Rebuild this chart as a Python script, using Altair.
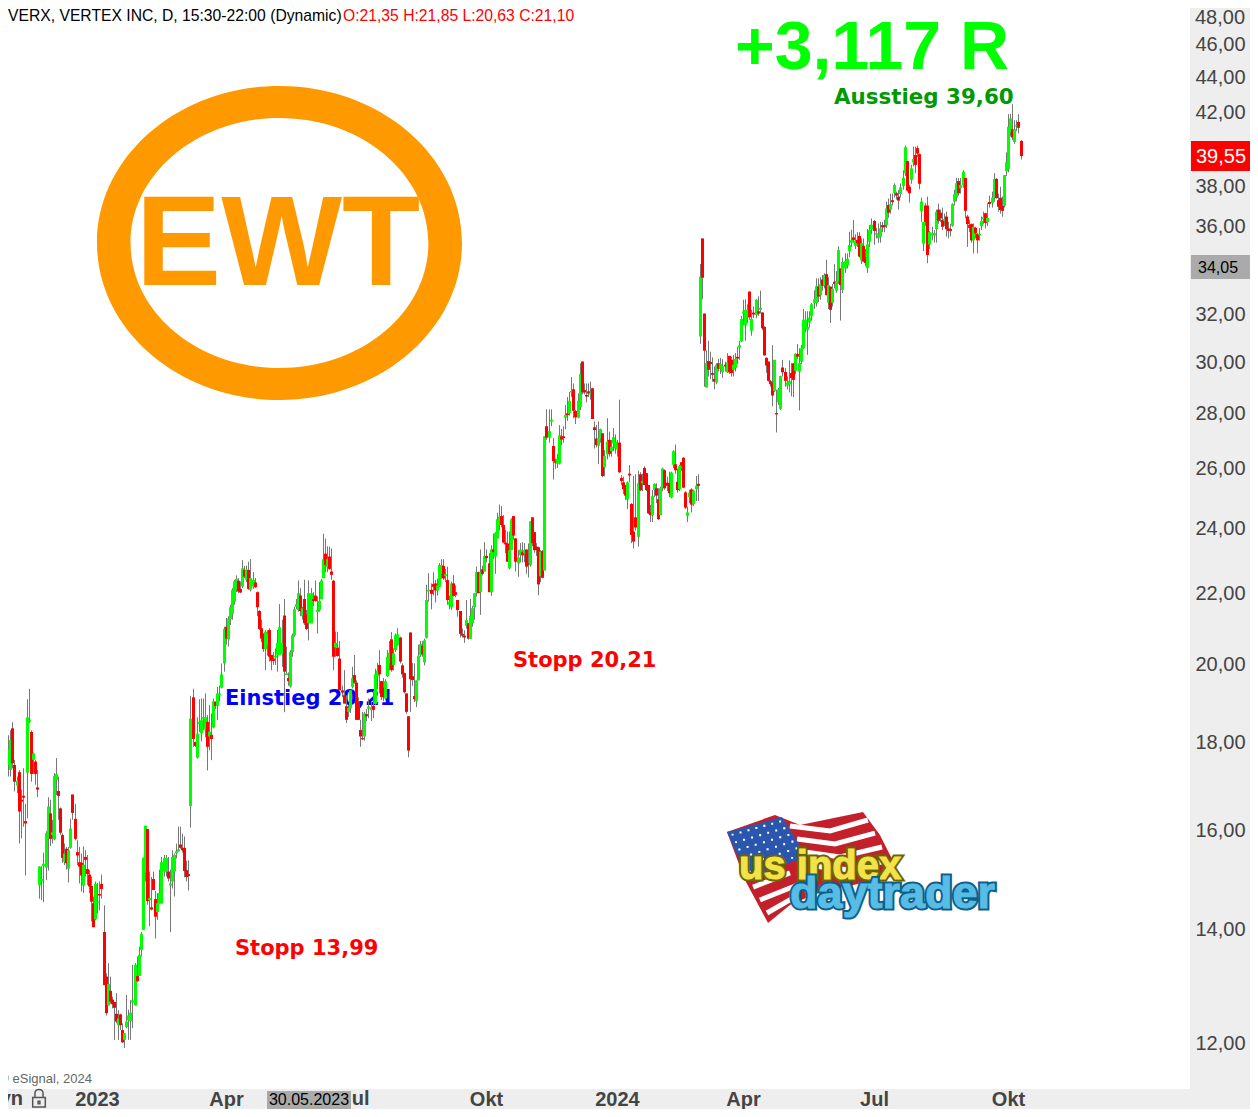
import altair as alt
import pandas as pd

# (open, high, low, close) per session
candles_a = [(16.49,17.01,16.49,17.01),(17.11,17.7,16.75,17.2),(17.11,17.6,16.57,17.05),(17.09,17.8,16.9,17.56),(17.44,18.15,17.17,17.81),(17.32,18.27,17.17,18.03),(18.32,18.47,17.36,17.48),(17.44,17.56,16.83,17.05),(16.96,17.17,16.79,17.07),(17.27,17.32,15.69,16.38),(16.64,16.87,15.8,16.6),(16.73,17.36,16.05,16.69),(16.17,16.55,15.03,16.12),(17.26,19.05,16.23,18.59),(18.5,19.32,18.45,18.53),(18.23,18.27,17.05,17.23),(17.56,17.73,17.23,17.71),(17.52,17.56,16.98,17.23),(16.92,17.32,16.7,16.87),(14.84,15.22,14.57,15.21),
(14.92,15.22,14.54,14.96),(15.22,15.5,14.5,15.27),(15.19,15.95,14.94,15.91),(15.8,16.7,15.13,16.49),(16.34,16.64,15.64,15.79),(15.87,16.2,15.69,15.93),(15.78,17.25,15.76,17.18),(17.09,17.6,16.75,17.23),(16.84,17.17,16.2,16.73),(16.45,16.47,15.87,15.92),(15.87,15.91,15.29,15.39),(15.31,15.69,15.24,15.48),(15.58,15.62,15.15,15.28),(15.17,15.62,14.89,15.55),(15.6,16.22,15.58,16.01),(16.76,16.76,16.2,16.35),(16.22,16.55,15.76,15.79),(15.51,15.76,15.24,15.44),(15.3,15.62,14.87,15.21),(15.29,15.48,14.71,15.03),
(14.83,15.63,14.68,15.25),(15.41,15.55,15.01,15.35),(15.16,15.45,14.84,15.06),(15.05,15.14,14.68,14.81),(14.82,15.01,14.13,14.51),(14.48,14.61,14.02,14.02),(14.17,14.91,14.15,14.86),(14.48,14.88,14.28,14.51),(14.66,14.91,14.34,14.63),(14.86,15.05,14.57,14.76),(13.93,14.44,12.97,12.97),(13.12,13.18,12.45,12.49),(12.62,13.36,12.62,12.99),(12.87,13.12,12.65,12.69),(12.72,12.77,12.57,12.64),(12.68,12.68,12.05,12.58),(12.48,12.83,12.32,12.35),(12.29,12.54,12.05,12.4),(12.47,12.48,12.21,12.29),(12.21,12.32,12.0,12.01),
(12.05,12.16,11.92,12.16),(12.26,12.8,12.24,12.35),(12.37,12.55,12.05,12.45),(12.36,12.71,12.05,12.5),(12.67,13.33,12.24,12.71),(12.62,13.36,12.62,13.33),(13.13,13.48,13.02,13.04),(13.13,13.66,13.13,13.51),(13.6,13.93,13.48,13.89),(13.97,15.4,13.97,15.39),(15.09,16.07,14.91,16.07),(16.0,16.0,14.45,14.52),(14.54,15.11,14.04,14.58),(14.4,15.0,14.34,14.36),(14.96,15.11,14.74,14.74),(14.56,14.72,13.81,14.22),(14.31,14.68,14.16,14.48),(14.48,15.15,14.47,14.68),(14.48,15.41,14.47,15.3),(15.11,15.45,15.01,15.39),
(15.11,15.45,15.01,15.39),(15.11,15.41,14.91,14.97),(14.83,15.15,13.93,14.87),(14.91,15.55,14.77,15.41),(15.11,15.48,14.61,15.45),(15.48,15.69,15.38,15.53),(15.53,16.05,15.52,15.57),(15.67,16.05,15.58,15.6),(15.6,15.9,15.5,15.55),(15.6,15.84,15.0,15.12),(15.14,15.33,14.91,15.0),(15.06,15.34,14.73,15.02),(16.5,19.14,16.03,18.56),(19.1,19.32,17.87,18.06),(17.99,17.99,17.87,17.89),(17.61,18.59,17.59,18.19),(18.43,19.05,18.23,18.48)]

candles_b = [(18.2,19.07,18.0,18.52),(18.56,19.07,18.28,18.6),(18.3,19.2,18.1,18.6),(18.48,18.65,17.31,17.87),(18.12,18.9,17.79,18.24),(18.16,18.69,17.55,18.06),(18.34,19.07,18.32,19.0),(18.98,19.0,18.8,18.88),(18.88,19.37,18.52,19.2),(19.15,19.4,19.0,19.2),(19.35,19.99,19.33,19.7),(19.99,21.0,19.77,20.94),(21.0,21.25,20.5,20.67),(20.65,21.3,20.45,21.23),(21.22,21.63,21.05,21.56),(21.37,22.12,21.2,22.07),(21.72,22.37,21.63,22.32),(22.07,22.5,22.0,22.4),(22.34,22.42,21.97,22.02),(22.1,22.32,21.97,21.99),
(22.17,22.97,22.12,22.72),(22.67,22.79,22.42,22.47),(22.37,22.8,22.3,22.67),(22.67,22.92,22.07,22.1),(22.07,23.0,22.02,22.42),(22.17,22.6,22.1,22.37),(22.29,22.42,22.12,22.15),(22.0,22.02,21.3,21.56),(21.45,21.48,20.91,20.94),(20.96,21.2,20.57,20.67),(20.81,20.81,20.3,20.38),(20.38,20.91,19.81,20.86),(20.5,20.9,20.2,20.8),(20.91,20.96,20.04,20.17),(20.22,20.22,19.81,20.06),(20.12,20.3,19.95,20.06),(20.15,20.4,19.95,20.2),(20.22,20.91,19.77,20.55),(20.22,21.65,20.22,20.99),(20.25,21.2,19.9,20.55),
(21.32,21.8,18.72,19.77),(19.68,20.45,19.68,19.72),(19.6,19.75,19.4,19.52),(19.38,20.35,19.35,20.3),(20.3,20.81,20.17,20.76),(20.76,21.57,20.72,21.5),(21.57,21.8,21.5,21.65),(21.48,22.35,21.43,21.97),(21.9,22.12,21.3,21.45),(21.3,21.57,21.2,21.53),(21.8,22.37,21.05,21.1),(21.35,21.48,20.91,20.94),(21.1,22.35,20.62,21.97),(21.1,22.12,21.1,21.97),(21.8,22.0,21.6,21.74),(21.9,22.35,21.72,21.74),(21.42,21.87,20.81,21.48),(21.48,22.3,21.43,21.74),(21.8,22.4,21.8,22.35),(22.42,23.8,22.42,23.0),
(23.17,23.65,22.6,22.82),(22.77,23.4,22.6,23.0),(23.08,23.39,22.67,22.7),(22.62,23.33,22.37,22.52),(22.34,22.37,19.81,20.17),(20.43,20.86,20.17,20.55),(20.42,20.86,20.17,20.19),(20.12,20.6,19.28,19.28),(19.28,19.4,19.1,19.22),(19.15,19.81,18.94,18.94),(18.87,19.15,18.45,18.53),(18.73,18.9,18.6,18.82),(18.82,19.3,18.7,19.28),(19.37,19.9,19.33,19.6),(19.68,20.22,19.45,19.48),(19.48,19.54,18.53,18.53),(18.98,19.1,18.53,18.53),(18.28,18.53,17.87,18.12),(18.08,18.73,18.03,18.05),(18.12,18.73,18.02,18.69),
(18.67,18.8,18.5,18.62),(18.81,19.07,18.57,18.86),(18.78,19.0,18.5,18.85),(18.88,19.28,18.57,18.78),(18.93,19.85,18.9,19.7),(19.65,20.0,19.3,19.8),(19.95,20.35,19.2,19.7),(19.52,19.52,19.03,19.11),(19.35,19.6,19.0,19.1),(19.07,19.57,19.03,19.52),(19.65,20.35,19.63,20.17),(19.99,20.6,19.8,20.28),(20.65,20.85,19.77,19.81),(19.95,20.4,19.8,20.26),(20.35,20.81,20.3,20.76),(20.5,20.96,20.47,20.79),(20.7,20.72,19.99,20.04),(19.94,19.99,19.61,19.7),(19.73,19.75,19.2,19.23),(19.2,19.2,18.68,18.73),
(18.62,18.62,17.62,17.78),(20.84,20.84,18.73,19.57),(19.65,20.0,19.4,19.55),(19.13,19.99,18.98,19.05),(19.0,19.54,18.85,19.54),(19.54,20.5,19.54,20.2),(20.22,20.6,20.17,20.52),(20.47,20.6,20.17,20.24),(20.02,20.67,19.94,20.62),(20.69,22.22,20.67,21.77),(22.02,22.57,21.72,22.07)]

candles_c = [(22.07,22.26,21.5,21.95),(22.24,22.6,21.9,22.16),(22.26,22.36,21.7,22.05),(22.05,22.4,21.9,22.2),(22.16,22.88,22.16,22.82),(22.55,23.0,22.4,22.82),(22.79,23.0,22.36,22.41),(22.48,22.7,22.3,22.54),(22.36,22.77,21.63,21.77),(21.63,21.9,21.5,21.72),(21.56,22.31,21.48,22.26),(22.26,22.51,21.87,21.89),(22.0,22.2,21.85,21.92),(21.77,21.77,21.29,21.48),(21.45,21.45,20.7,20.8),(20.8,20.95,20.7,20.75),(20.75,20.9,20.55,20.7),(21.03,21.77,20.95,21.19),(21.1,21.1,20.64,20.67),(20.66,21.8,20.66,21.31),
(21.1,21.6,21.0,21.53),(21.56,21.97,21.2,21.97),(21.99,22.77,21.87,22.6),(22.6,22.62,21.97,21.97),(22.0,23.3,21.34,22.6),(22.69,22.8,22.5,22.55),(22.62,23.53,22.62,23.1),(23.1,23.3,22.9,23.03),(22.87,23.18,22.0,22.0),(22.0,23.43,21.89,23.3),(23.3,23.8,23.0,23.22),(23.08,23.85,22.55,23.82),(23.65,24.48,23.65,24.27),(24.08,24.75,23.9,24.35),(24.37,24.7,24.0,24.08),(24.08,24.4,23.5,23.52),(23.52,23.92,23.18,23.46),(23.49,23.87,22.92,22.92),(22.72,23.87,22.69,23.28),(23.28,24.3,23.28,24.27),
(24.37,24.37,23.6,23.74),(23.65,23.65,22.62,22.92),(22.87,23.28,22.46,23.05),(23.12,23.5,22.9,23.3),(23.22,23.53,22.9,23.12),(23.18,23.5,22.9,23.28),(23.3,23.3,22.55,22.77),(22.87,23.49,22.44,22.82),(22.82,24.2,22.77,24.2),(24.33,24.33,23.4,23.5),(23.85,23.85,23.2,23.28),(23.39,23.5,23.1,23.28),(23.37,23.39,21.91,22.23),(22.48,23.28,22.3,23.23),(23.25,23.28,22.41,22.43),(22.65,27.13,22.65,27.13),(27.5,28.13,27.0,27.08),(27.08,28.13,26.9,27.32),(27.68,28.13,27.5,27.74),(26.78,27.07,25.6,26.24),
(26.24,26.33,25.97,26.18),(26.15,26.5,26.0,26.33),(26.15,27.54,26.12,27.17),(27.13,27.4,26.8,27.01),(27.13,27.5,26.9,27.07),(27.82,28.3,27.39,27.92),(27.98,28.6,27.7,27.92),(28.0,28.8,27.9,28.46),(28.78,29.38,28.6,28.84),(28.9,29.13,27.8,28.08),(28.07,28.11,27.58,27.83),(27.82,28.74,27.8,28.46),(28.23,29.93,28.1,29.5),(30.0,30.0,28.7,28.78),(28.87,29.13,28.7,28.78),(28.68,29.13,28.4,28.62),(28.82,29.13,28.6,28.74),(28.7,29.2,28.5,28.77),(28.94,28.96,27.77,27.77),(27.46,27.68,26.69,27.36),
(27.05,27.55,26.73,26.81),(26.79,27.68,26.14,27.05),(27.05,27.41,26.9,27.39),(27.24,27.24,25.68,25.72),(26.03,26.63,25.7,26.42),(26.48,27.8,26.3,26.93),(27.0,27.3,26.4,26.5),(26.6,27.0,26.4,26.75),(26.87,27.43,26.6,27.1),(26.7,27.2,26.5,26.93),(26.65,27.0,26.4,26.8),(26.9,28.5,25.82,25.85),(25.65,25.75,25.4,25.55),(25.5,25.7,25.1,25.27),(25.41,25.41,24.9,25.05),(24.92,25.53,24.6,25.5),(25.8,26.1,25.5,25.74),(24.77,24.8,23.5,23.76),(23.87,25.72,23.33,23.55),(24.33,25.78,23.9,24.0),
(23.7,25.9,23.39,25.47),(25.78,25.85,25.2,25.23),(25.47,25.8,25.2,25.55),(26.0,26.06,25.4,25.41),(25.82,25.82,25.2,25.24),(25.41,25.41,24.44,24.46),(24.49,24.74,24.18,24.4),(24.4,25.24,24.18,25.03),(25.24,25.47,25.0,25.45),(25.3,25.47,24.8,25.05),(24.93,25.3,24.24,24.27),(24.4,25.35,24.4,25.3),(25.3,26.01,25.2,25.98),(25.92,25.95,25.25,25.3),(25.49,25.7,25.2,25.38),(25.47,25.87,25.0,25.13),(24.99,25.87,24.96,25.84),(26.11,26.63,26.0,26.59),(26.13,26.83,25.8,25.92),(25.52,25.98,25.15,25.24),
(25.27,26.11,25.2,26.07),(26.2,26.2,25.9,26.08),(26.36,26.38,25.3,25.32),(25.16,25.2,24.6,24.65),(24.38,24.68,24.18,24.49),(25.0,25.25,24.8,25.15),(25.26,25.3,24.49,24.75),(24.77,25.25,24.7,25.22),(25.27,25.72,24.87,25.39),(25.45,25.78,24.87,25.38)]

candles_d = [(31.03,34.2,30.72,33.62),(35.4,35.4,32.62,33.58),(32.0,32.0,29.0,30.44),(28.97,30.45,28.97,29.94),(30.02,30.85,29.4,29.67),(29.98,30.4,29.3,29.9),(29.54,30.17,29.2,29.47),(29.31,29.8,28.9,29.2),(29.17,29.93,29.1,29.87),(29.93,30.1,29.6,29.71),(29.71,30.15,29.5,29.9),(29.57,30.1,29.35,29.81),(29.87,30.0,29.6,29.8),(29.57,30.34,29.54,29.96),(30.23,30.23,29.5,29.57),(30.07,30.2,29.4,29.54),(29.67,30.27,29.4,29.87),(29.74,30.34,29.6,30.1),(30.19,30.6,29.9,30.12),(30.57,30.85,30.07,30.67),
(30.83,31.9,30.8,31.77),(32.0,32.6,31.5,32.09),(31.5,32.62,30.85,32.16),(31.87,32.4,31.6,32.16),(32.96,32.96,31.73,31.84),(31.27,32.16,31.06,31.77),(32.04,32.3,31.8,31.96),(31.94,32.62,31.8,32.6),(32.1,32.75,31.9,32.0),(32.16,33.0,32.0,32.25),(32.05,32.05,31.3,31.37),(31.43,31.46,30.24,30.25),(30.15,30.17,29.55,29.84),(30.0,30.0,29.2,29.23),(29.22,29.27,29.0,29.1),(29.14,30.67,28.25,28.66),(28.84,30.07,28.8,30.07),(27.99,28.88,27.27,27.94),(28.4,28.95,28.3,28.9),(28.15,29.43,28.1,29.42),
(29.76,30.07,29.4,29.57),(29.58,29.74,29.0,29.23),(29.05,29.4,28.9,29.17),(29.11,30.05,28.78,29.23),(29.54,29.94,28.63,29.34),(29.93,29.93,28.6,29.27),(29.63,30.34,29.5,30.31),(30.31,30.72,30.1,30.2),(29.6,30.54,28.09,29.94),(30.0,30.67,29.9,30.54),(30.54,32.2,30.5,31.73),(31.4,32.1,31.2,31.73),(31.3,32.1,30.27,31.43),(31.62,32.1,31.4,31.83),(31.88,32.46,31.7,32.4),(32.46,33.02,32.2,32.62),(32.46,33.55,32.3,33.2),(33.18,33.55,32.5,32.74),(32.8,33.6,32.6,33.29),(33.5,33.7,33.0,33.22),
(33.25,33.78,33.1,33.7),(33.74,34.4,32.8,32.8),(32.47,33.6,32.2,33.25),(33.18,33.18,31.6,32.16),(32.47,33.3,32.3,33.08),(33.4,34.2,33.1,33.3),(33.0,33.88,32.9,33.43),(33.43,35.03,33.3,34.85),(34.0,34.0,31.7,33.25),(33.03,34.5,32.9,34.3),(34.0,34.7,33.8,34.34),(34.16,34.7,34.0,34.44),(34.81,35.72,34.52,35.09),(35.2,35.82,35.0,35.32),(35.45,36.29,35.2,35.33),(35.05,35.6,34.9,35.3),(35.33,35.7,35.0,35.17),(35.52,35.7,34.5,34.55),(34.37,35.4,34.2,35.17),(35.05,35.4,34.3,34.32),
(34.52,34.9,34.1,34.25),(34.02,35.85,33.8,35.12)]

candles_e = [(35.25,36.04,35.0,35.8),(35.84,36.37,35.6,36.06),(36.24,36.29,35.1,35.76),(35.58,35.9,35.4,35.65),(35.41,36.12,35.2,35.57),(35.49,36.2,35.2,35.88),(36.04,36.2,35.7,35.93),(36.04,36.3,35.7,35.96),(36.04,37.2,35.9,36.86),(37.03,37.35,36.4,36.65),(36.8,37.6,36.6,37.07),(37.27,37.6,37.0,37.17),(37.62,38.12,37.4,38.04),(37.62,37.7,37.3,37.5),(37.45,37.78,36.8,37.25),(37.58,38.12,37.4,37.91),(37.98,38.8,37.8,38.4),(38.65,40.1,38.5,40.02),(39.28,39.3,37.7,37.75),(37.95,38.04,37.15,37.62),
(38.3,39.08,38.1,38.9),(39.2,40.05,39.0,39.39),(39.6,40.05,38.65,39.08),(39.97,40.1,39.5,39.68),(39.65,39.68,37.82,38.1),(36.73,37.4,36.2,37.2),(35.15,36.2,34.8,36.2),(37.0,37.12,36.0,36.2),(37.0,37.45,34.24,34.62),(35.11,35.75,34.9,35.7),(35.55,35.96,35.3,35.65),(35.55,35.8,35.2,35.65),(35.84,36.8,35.2,36.7),(36.8,37.1,36.1,36.25),(36.65,36.8,36.2,36.37),(36.3,36.9,35.8,35.96),(36.25,36.6,36.0,36.33),(36.46,36.7,35.49,35.84),(35.88,36.2,35.4,35.76),(35.85,36.1,35.5,35.76),
(36.01,37.12,35.96,37.07),(37.2,37.8,37.0,37.57),(37.39,38.4,37.2,38.12),(38.24,38.4,37.5,37.62),(37.87,38.4,37.6,38.04),(38.04,38.8,37.9,38.72),(38.4,38.42,36.37,36.74),(36.46,36.54,35.0,36.09),(36.04,36.3,35.7,35.91),(36.09,36.12,35.2,35.31),(35.31,36.12,34.7,35.96),(35.91,35.96,35.4,35.65),(35.62,35.65,34.7,35.31),(35.55,35.9,35.3,35.62),(35.99,36.46,35.8,36.24),(36.33,36.7,36.1,36.43),(36.62,36.65,35.88,36.15),(36.19,37.12,36.0,36.39),(37.18,37.5,36.9,37.08),(37.12,37.7,36.9,37.39),
(37.39,38.65,37.2,38.35),(38.35,38.4,37.35,37.37),(37.27,37.6,36.7,36.94),(37.39,37.95,36.6,36.78),(36.99,37.45,36.45,36.74),(36.99,38.55,36.9,38.55),(38.75,39.74,38.5,39.22),(38.87,41.84,38.7,41.14),(40.86,41.86,40.6,41.6),(41.0,42.4,40.4,40.54),(40.3,41.5,40.2,41.0),(41.15,41.5,40.9,41.22),(41.4,41.84,40.77,41.08),(40.36,40.4,39.37,39.55)]

y_ticks = [12, 14, 16, 18, 20, 22, 24, 26, 28, 30, 32, 36, 38, 42, 44, 46]
x_tick_sessions = [47, 109, 235, 298, 359, 422, 487]
x_tick_labels = ["2023", "Apr", "Okt", "2024", "Apr", "Jul", "Okt"]

title_black = "VERX, VERTEX INC, D, 15:30-22:00 (Dynamic)"
title_red = "O:21,35 H:21,85 L:20,63 C:21,10"

W, H = 1242, 1101          # fits the window inside the page margin, so the page does not overflow
FONT = "Liberation Sans"
one = pd.DataFrame({"a": [0]})


def px(v):                 # page pixel to chart pixel
    return v - 8


rows = []
for group in (candles_a, candles_b, candles_c, candles_d, candles_e):
    rows.extend(group)
df = pd.DataFrame(rows, columns=["open", "high", "low", "close"])
df["i"] = range(len(df))
df["dir"] = ["up" if c >= o else "down" for o, c in zip(df["open"], df["close"])]

x_label_expr = " : ".join(
    f"datum.value == {v} ? '{t}'" for v, t in zip(x_tick_sessions, x_tick_labels)
) + " : ''"

x_enc = alt.X(
    "i:Q",
    title=None,
    scale=alt.Scale(domain=[8 / 2.07, 1250 / 2.07], nice=False, zero=False, round=True),
    axis=alt.Axis(
        values=x_tick_sessions, labelExpr=x_label_expr, orient="bottom", offset=-20,
        domain=False, ticks=False, grid=False, labelPadding=10, labelBaseline="middle",
        labelFont=FONT, labelFontSize=20, labelFontWeight="bold", labelColor="#444444",
        labelOverlap=False, labelFlush=False, labelBound=False, zindex=1,
    ),
)
y_enc = alt.Y(
    "high:Q",
    title=None,
    scale=alt.Scale(type="log", domain=[10.98, 48.26], nice=False, zero=False),
    axis=alt.Axis(
        values=y_ticks, labelExpr="replace(format(datum.value,'.2f'),'.',',')",
        orient="right", offset=-60, domain=False, ticks=False, grid=False,
        labelPadding=5, labelAlign="left", labelBaseline="middle", labelFont=FONT,
        labelFontSize=20, labelColor="#444444", labelOverlap=False, labelFlush=False,
        labelBound=False, labelOffset=1, zindex=1,
    ),
)


def rect(x1, x2, y1, y2, color):
    return alt.Chart(one).mark_rect(color=color).encode(
        x=alt.value(px(x1)), x2=alt.value(px(x2)), y=alt.value(px(y1)), y2=alt.value(px(y2))
    )


def txt(s, x, y, size, color, weight="normal", align="left", font=FONT, **kw):
    return alt.Chart(one).mark_text(
        text=s, fontSize=size, color=color, fontWeight=weight, align=align,
        baseline="middle", font=font, **kw
    ).encode(x=alt.value(px(x)), y=alt.value(px(y)))


def shape(path, x, y, span, fill=None, stroke=None, sw=1):
    kw = {}
    if fill:
        kw.update(filled=True, fill=fill, opacity=1)
    else:
        kw.update(filled=False, stroke=stroke, strokeWidth=sw, opacity=1)
    return alt.Chart(one).mark_point(shape=path, size=span * span, **kw).encode(
        x=alt.value(px(x)), y=alt.value(px(y))
    )


# flag of the lower logo, built from outline points around one centre
FX, FY, FR = 860, 868, 150


def poly(points, close=True):
    p = " L".join(f"{(x - FX) / FR:.3f},{(y - FY) / FR:.3f}" for x, y in points)
    return "M" + p + (" Z" if close else "")


def flag_shape(path, **kw):
    return shape(path, FX, FY, 2 * FR, **kw)


canton = [(727, 832), (782, 817), (807, 857), (747, 877)]
stars = ""
for a in range(7):
    for b in range(6):
        u, v = (a + 0.5) / 7, (b + 0.5) / 6
        sx = canton[0][0] * (1 - u) * (1 - v) + canton[1][0] * u * (1 - v) + canton[2][0] * u * v + canton[3][0] * (1 - u) * v
        sy = canton[0][1] * (1 - u) * (1 - v) + canton[1][1] * u * (1 - v) + canton[2][1] * u * v + canton[3][1] * (1 - u) * v
        stars += poly([(sx - 1, sy - 1), (sx + 1, sy - 1), (sx + 1, sy + 1), (sx - 1, sy + 1)]) + " "

flag_layers = [
    flag_shape(poly([(727, 832), (775, 815), (800, 825), (863, 812), (880, 835), (900, 875),
                     (820, 892), (790, 905), (768, 923), (745, 880)]), fill="#c4202c"),
    flag_shape(poly([(790, 826), (830, 831), (868, 820)], False), stroke="#ffffff", sw=5),
    flag_shape(poly([(797, 839), (835, 844), (875, 833)], False), stroke="#ffffff", sw=5),
    flag_shape(poly([(805, 852), (840, 857), (882, 847)], False), stroke="#ffffff", sw=5),
    flag_shape(poly([(813, 866), (850, 870), (889, 860)], False), stroke="#ffffff", sw=5),
    flag_shape(poly([(753, 887), (790, 873)], False), stroke="#ffffff", sw=5),
    flag_shape(poly([(760, 900), (800, 884)], False), stroke="#ffffff", sw=5),
    flag_shape(poly([(767, 913), (795, 897)], False), stroke="#ffffff", sw=5),
    flag_shape(poly(canton), fill="#2a57ad"),
    flag_shape(stars, fill="#ffffff"),
    txt("us index", 739, 867, 40, "#6b6500", "bold", stroke="#6b6500", strokeWidth=5),
    txt("us index", 739, 867, 40, "#f3e24a", "bold", stroke="#f3e24a", strokeWidth=1),
    txt("daytrader", 790, 894, 45, "#0f5f88", "bold", stroke="#0f5f88", strokeWidth=5),
    txt("daytrader", 790, 894, 45, "#58bde6", "bold", stroke="#58bde6", strokeWidth=1),
]

ring = ("M-1,0 A1,0.86 0 1,1 1,0 A1,0.86 0 1,1 -1,0 Z "
        "M-0.816,0 A0.816,0.685 0 1,0 0.816,0 A0.816,0.685 0 1,0 -0.816,0 Z")
lock = ("M-.7,-.05 L.7,-.05 L.7,1 L-.7,1 Z "
        "M-.45,-.05 L-.45,-.5 C-.45,-1.1 .45,-1.1 .45,-.5 L.45,-.05 "
        "M-.1,.35 L.1,.35 L.1,.65 L-.1,.65 Z")

wicks = alt.Chart(df).mark_rule(color="#777777", strokeWidth=1, xOffset=0.5).encode(
    x=x_enc, y=y_enc, y2="low:Q"
)
bodies = alt.Chart(df).mark_rule(strokeWidth=3, xOffset=0.5, strokeCap="butt").encode(
    x=alt.X("i:Q"), y=alt.Y("open:Q"), y2="close:Q",
    color=alt.Color("dir:N", legend=None,
                    scale=alt.Scale(domain=["up", "down"], range=["#00ff00", "#ff0000"])),
)

chart = alt.layer(
    rect(1190, 1258, 0, 1117, "#eeeeee"),
    rect(0, 1258, 1089, 1117, "#eeeeee"),
    shape(ring, 279.5, 243, 365, fill="#ff9900"),
    txt("EWT", 278, 247, 128, "#ff9900", "bold", align="center"),
    *flag_layers,
    txt("Einstieg 20,21", 225, 699, 21, "#0000ff", "bold", font="DejaVu Sans"),
    txt("Stopp 20,21", 513, 661, 21, "#ff0000", "bold", font="DejaVu Sans"),
    txt("Stopp 13,99", 235, 949, 21, "#ff0000", "bold", font="DejaVu Sans"),
    txt("Ausstieg 39,60", 834, 98, 21.4, "#009900", "bold", font="DejaVu Sans"),
    txt("+3,117 R", 735, 49, 68, "#00ff00", "bold"),
    wicks,
    bodies,
    txt(title_black, 8, 16, 15.7, "#000000"),
    txt(title_red, 343, 16, 15.7, "#ff0000"),
    txt("\u00a9 eSignal, 2024", 92, 1079, 13, "#666666", align="right"),
    txt("48,00", 1195, 18, 20, "#444444"),
    txt("40,00", 1195, 149, 20, "#444444"),
    rect(1191, 1258, 141, 171, "#ff0000"),
    txt("39,55", 1221, 157, 20, "#ffffff", align="center"),
    rect(1191, 1258, 255, 279, "#aaaaaa"),
    txt("34,05", 1198, 268, 16, "#000000"),
    txt("Dyn", 23, 1099, 20, "#444444", "bold", align="right"),
    shape(lock, 39, 1098, 18, stroke="#555555", sw=1.5),
    txt("Jul", 355, 1099, 20, "#444444", "bold", align="center"),
    rect(267, 351, 1091, 1109, "#aaaaaa"),
    txt("30.05.2023", 309, 1100, 16, "#000000", align="center"),
).properties(
    width=W, height=H, padding=0, autosize=alt.AutoSizeParams(type="none"), background="#ffffff"
).configure_view(stroke=None)

chart.save("out.html", embed_options={"renderer": "svg", "actions": False})
